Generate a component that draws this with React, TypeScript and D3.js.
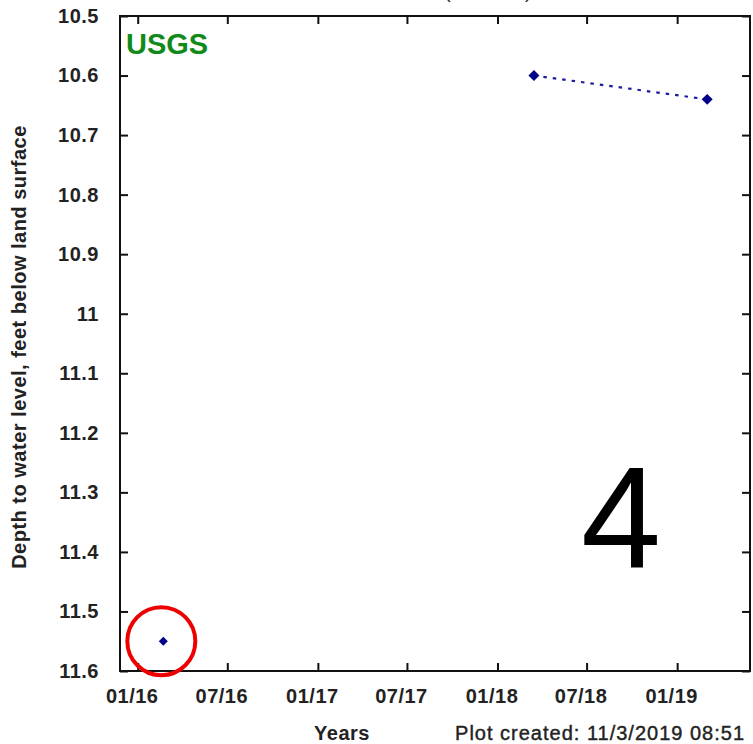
import React, { useRef, useEffect } from 'react';
import * as d3 from 'd3';

// measurement dates and depths below land surface (feet)
const sampleDates = ['2016-02-22', '2018-03-16', '2019-03-03'];
const depthValues = [11.55, 10.6, 10.64];
// points sharing a segment id are joined by the dotted line
const segmentIds = [0, 1, 1];
// the circled point
const highlighted = [0];

const xDomain = ['2015-11-26', '2019-05-29'];
const yDomain = [10.5, 11.6];
const yTicks = [10.5, 10.6, 10.7, 10.8, 10.9, 11, 11.1, 11.2, 11.3, 11.4, 11.5, 11.6];
const xTicks = ['2016-01-01', '2016-07-01', '2017-01-01', '2017-07-01', '2018-01-01', '2018-07-01', '2019-01-01'];

const yTitle = 'Depth to water level, feet below land surface';
const xTitle = 'Years';
const footNote = 'Plot created: 11/3/2019 08:51';
const badge = 'USGS';
const panelNumber = '4';

const W = 753;
const H = 744;
const margin = { left: 120, top: 16, right: 3, bottom: 73 };
const font = '"Liberation Sans", Arial, Helvetica, sans-serif';

const App = () => {
    const svgRef = useRef<SVGSVGElement>(null);

    useEffect(() => {
        const svg = d3.select(svgRef.current);
        svg.selectAll('*').remove();

        const parse = d3.utcParse('%Y-%m-%d');
        const x = d3.scaleUtc()
            .domain(xDomain.map(d => parse(d) as Date))
            .range([margin.left, W - margin.right]);
        const y = d3.scaleLinear()
            .domain(yDomain)
            .range([margin.top, H - margin.bottom]);

        const points = sampleDates.map((d, i) => ({
            date: parse(d) as Date,
            depth: depthValues[i],
            seg: segmentIds[i],
            i,
        }));

        const tickDates = xTicks.map(d => parse(d) as Date);
        const fmtX = d3.utcFormat('%m/%y');
        const fmtY = (d: number) => String(+d.toFixed(1));

        const styleAxis = (g: any) => {
            g.select('.domain').remove();
            g.selectAll('line').attr('stroke', '#111').attr('stroke-width', 2);
            g.selectAll('text')
                .attr('font-family', font)
                .attr('font-weight', 'bold')
                .attr('font-size', 20)
                .attr('letter-spacing', 0.5)
                .attr('fill', '#222');
        };

        // bottom axis, ticks pointing in
        svg.append('g')
            .attr('transform', `translate(0,${H - margin.bottom})`)
            .call(d3.axisBottom(x).tickValues(tickDates).tickFormat(d => fmtX(d as Date)).tickSize(-8).tickPadding(18))
            .call(styleAxis)
            .selectAll('text').attr('dx', -6);

        // top axis, ticks only
        svg.append('g')
            .attr('transform', `translate(0,${margin.top})`)
            .call(d3.axisTop(x).tickValues(tickDates).tickFormat(() => '').tickSize(-8))
            .call(styleAxis);

        // left axis
        svg.append('g')
            .attr('transform', `translate(${margin.left},0)`)
            .call(d3.axisLeft(y).tickValues(yTicks).tickFormat(d => fmtY(+d)).tickSize(-8).tickPadding(21))
            .call(styleAxis);

        // right axis, ticks only
        svg.append('g')
            .attr('transform', `translate(${W - margin.right},0)`)
            .call(d3.axisRight(y).tickValues(yTicks).tickFormat(() => '').tickSize(-8))
            .call(styleAxis);

        // frame
        svg.append('rect')
            .attr('x', margin.left)
            .attr('y', margin.top)
            .attr('width', W - margin.left - margin.right)
            .attr('height', H - margin.top - margin.bottom)
            .attr('fill', 'none')
            .attr('stroke', '#111')
            .attr('stroke-width', 2);

        // dotted line within each segment
        const line = d3.line<any>().x(d => x(d.date)).y(d => y(d.depth));
        d3.groups(points, d => d.seg).forEach(([, pts]) => {
            if (pts.length < 2) return;
            svg.append('path')
                .attr('d', line(pts))
                .attr('fill', 'none')
                .attr('stroke', '#1c1ca0')
                .attr('stroke-width', 2.2)
                .attr('stroke-dasharray', '3.5,6');
        });

        // diamond markers
        svg.selectAll('.pt')
            .data(points)
            .join('path')
            .attr('class', 'pt')
            .attr('d', d => d3.symbol(d3.symbolSquare, d.i === 0 ? 40 : 60)())
            .attr('transform', d => `translate(${x(d.date)},${y(d.depth)}) rotate(45)`)
            .attr('fill', '#000088');

        // red circle annotation
        svg.selectAll('.ring')
            .data(highlighted.map(i => points[i]))
            .join('ellipse')
            .attr('class', 'ring')
            .attr('cx', d => x(d.date) - 2)
            .attr('cy', d => y(d.depth))
            .attr('rx', 34)
            .attr('ry', 34)
            .attr('fill', 'none')
            .attr('stroke', '#ee0000')
            .attr('stroke-width', 4);

        // USGS badge
        svg.append('text')
            .attr('x', 126)
            .attr('y', 54)
            .attr('font-family', font)
            .attr('font-weight', 'bold')
            .attr('font-size', 29)
            .attr('fill', '#118a1a')
            .text(badge);

        // title, mostly cut off above the page
        svg.append('text').attr('x', 444).attr('y', -2)
            .attr('font-family', font).attr('font-size', 20).attr('fill', '#333').text('(');
        svg.append('text').attr('x', 525).attr('y', -2)
            .attr('font-family', font).attr('font-size', 20).attr('fill', '#333').text(')');

        // y title
        svg.append('text')
            .attr('transform', `translate(26,${347}) rotate(-90)`)
            .attr('text-anchor', 'middle')
            .attr('font-family', font)
            .attr('font-weight', 'bold')
            .attr('font-size', 20)
            .attr('letter-spacing', 0.5)
            .attr('fill', '#222')
            .text(yTitle);

        // x title
        svg.append('text')
            .attr('x', 342)
            .attr('y', 740)
            .attr('text-anchor', 'middle')
            .attr('font-family', font)
            .attr('font-weight', 'bold')
            .attr('font-size', 20)
            .attr('letter-spacing', 0.5)
            .attr('fill', '#222')
            .text(xTitle);

        // footnote
        svg.append('text')
            .attr('x', 745)
            .attr('y', 740)
            .attr('text-anchor', 'end')
            .attr('font-family', font)
            .attr('font-size', 20)
            .attr('letter-spacing', 1)
            .attr('stroke', '#222')
            .attr('stroke-width', 0.4)
            .attr('fill', '#222')
            .text(footNote);

        // big panel number
        svg.append('text')
            .attr('x', 621)
            .attr('y', 568)
            .attr('text-anchor', 'middle')
            .attr('font-family', font)
            .attr('font-size', 144)
            .attr('fill', '#000')
            .text(panelNumber);
    }, []);

    return (
        <svg ref={svgRef} width={W} height={H}
            style={{ position: 'absolute', left: 0, top: 0, background: '#fff' }} />
    );
};

export default App;
